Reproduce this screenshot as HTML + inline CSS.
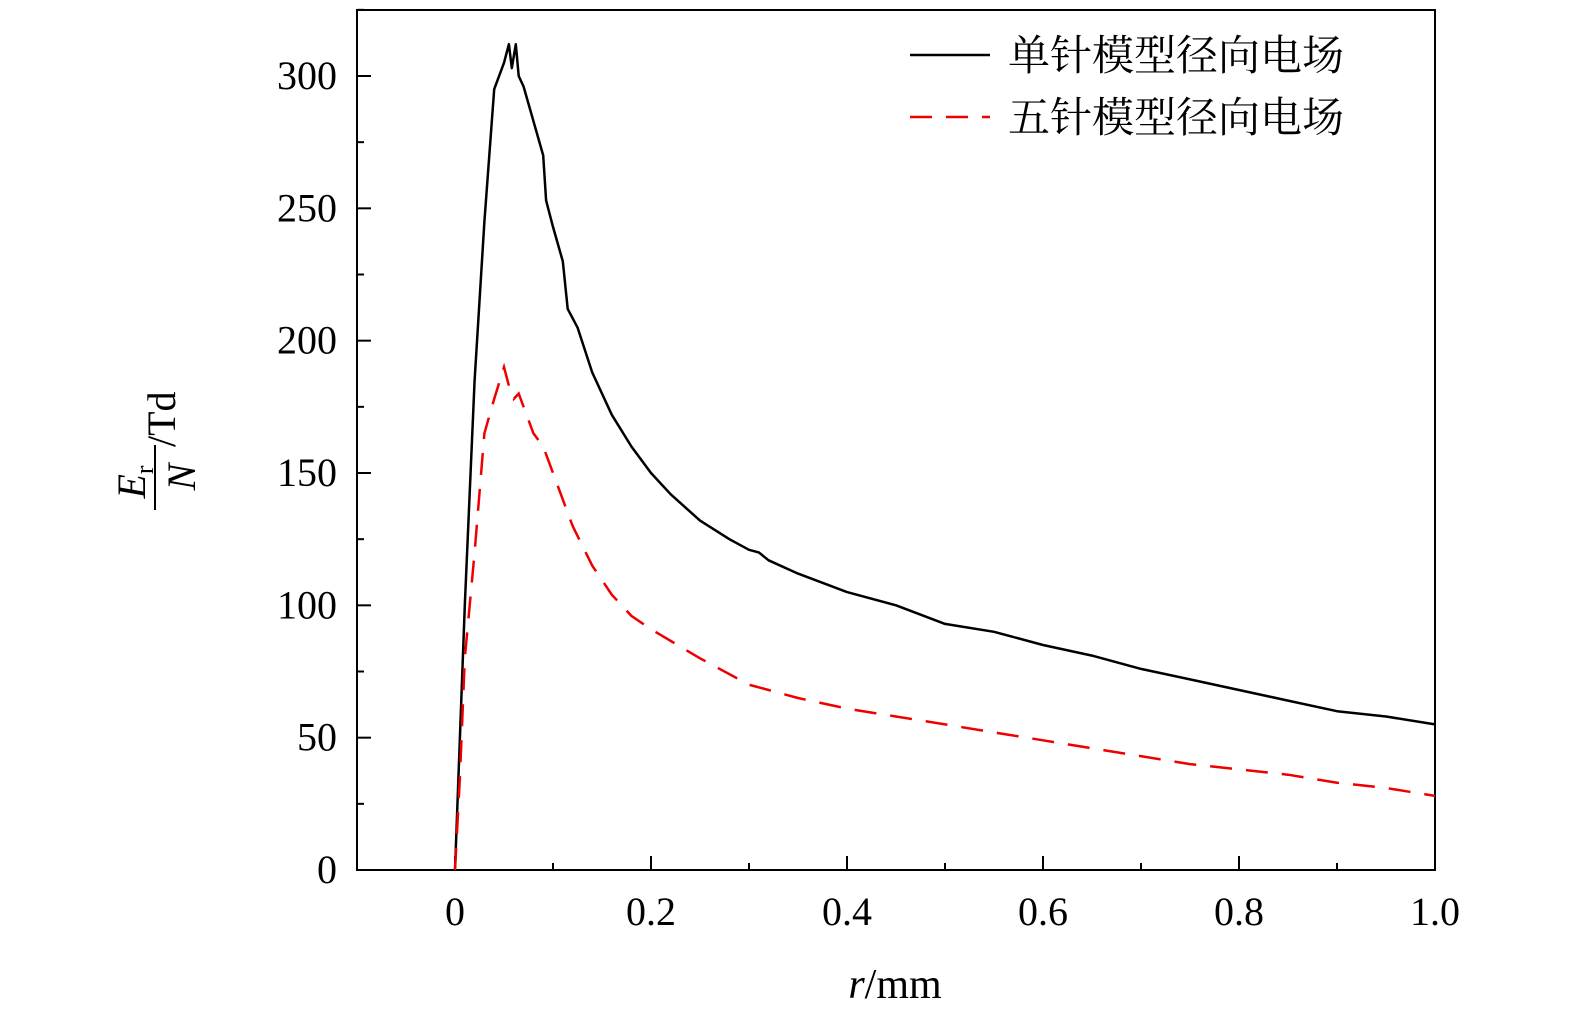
<!DOCTYPE html>
<html><head><meta charset="utf-8"><style>
body{margin:0;background:#fff;}
svg{display:block;font-family:"Liberation Serif","Noto Serif CJK SC",serif;}
</style></head><body>
<svg id="chart" width="1575" height="1024" viewBox="0 0 1575 1024">
<rect x="357" y="10" width="1078" height="860" fill="none" stroke="#000" stroke-width="2"/>
<g id="ticks"></g>
<g id="series"></g>
<text x="895" y="998" font-size="42" text-anchor="middle"><tspan font-style="italic">r</tspan>/mm</text>
<g transform="translate(190,435) rotate(-90)">
<text x="-47" y="-45" font-size="40" font-style="italic" text-anchor="middle">E<tspan font-size="26" font-style="normal" dy="8">r</tspan></text>
<line x1="-75" y1="-35" x2="-10" y2="-35" stroke="#000" stroke-width="2"/>
<text x="-42" y="5" font-size="40" font-style="italic" text-anchor="middle">N</text>
<text x="-12" y="-15" font-size="40" text-anchor="start">/Td</text>
</g>
<g>
<line x1="910" y1="55" x2="990" y2="55" stroke="#000" stroke-width="2.5"/>
<text x="1008" y="70" font-size="42">单针模型径向电场</text>
<line x1="910" y1="117" x2="990" y2="117" stroke="#e00" stroke-width="2.5" stroke-dasharray="22,14"/>
<text x="1008" y="132" font-size="42">五针模型径向电场</text>
</g>
</svg>
<script>
const xTicks=[0,0.2,0.4,0.6,0.8,1.0];
const xTickLabels=["0","0.2","0.4","0.6","0.8","1.0"];
const yTicks=[0,50,100,150,200,250,300];
const yTickLabels=["0","50","100","150","200","250","300"];
const rSingle=[0,0.005,0.01,0.02,0.03,0.035,0.04,0.05,0.055,0.058,0.062,0.065,0.07,0.08,0.09,0.093,0.1,0.11,0.115,0.125,0.14,0.16,0.18,0.2,0.22,0.25,0.28,0.3,0.31,0.32,0.35,0.4,0.45,0.5,0.55,0.6,0.65,0.7,0.75,0.8,0.85,0.9,0.95,1.0];
const eSingle=[0,50,100,185,245,270,295,305,312,303,312,300,296,283,270,253,243,230,212,205,188,172,160,150,142,132,125,121,120,117,112,105,100,93,90,85,81,76,72,68,64,60,58,55];
const rFive=[0,0.005,0.01,0.02,0.03,0.04,0.05,0.055,0.06,0.065,0.07,0.08,0.09,0.1,0.12,0.14,0.16,0.18,0.2,0.25,0.3,0.35,0.4,0.45,0.5,0.55,0.6,0.65,0.7,0.75,0.8,0.85,0.9,0.95,1.0];
const eFive=[0,35,80,120,165,178,190,183,178,180,175,165,160,150,130,115,104,96,91,80,70,65,61,58,55,52,49,46,43,40,38,36,33,31,28];
const NS="http://www.w3.org/2000/svg";
const X=v=>455+v*980;
const Y=v=>870-v*(794/300);
const tg=document.getElementById('ticks');
function mk(tag,attrs,parent){const e=document.createElementNS(NS,tag);for(const k in attrs)e.setAttribute(k,attrs[k]);parent.appendChild(e);return e;}
for(let v=-0.1;v<=1.001;v+=0.1){const l=mk('line',{x1:X(v),x2:X(v),y1:870,y2:Math.abs(Math.round(v*10)%2)===0?856:863,stroke:'#000','stroke-width':2},tg);

}
xTicks.forEach((v,i)=>{const t=mk('text',{x:X(v),y:925,'font-size':40,'text-anchor':'middle'},tg);t.textContent=xTickLabels[i];

});
for(let v=0;v<=325;v+=25){const l=mk('line',{x1:357,x2:v%50===0?371:364,y1:Y(v),y2:Y(v),stroke:'#000','stroke-width':2},tg);

}
yTicks.forEach((v,i)=>{const t=mk('text',{x:337,y:Y(v)+13,'font-size':40,'text-anchor':'end'},tg);t.textContent=yTickLabels[i];

});
const sg=document.getElementById('series');
function path(rs,es){return rs.map((r,i)=>(i?'L':'M')+X(r).toFixed(1)+','+Y(es[i]).toFixed(1)).join(' ');}
const p1=mk('path',{d:path(rSingle,eSingle),fill:'none',stroke:'#000','stroke-width':2.5,'stroke-linejoin':'round'},sg);


const p2=mk('path',{d:path(rFive,eFive),fill:'none',stroke:'#e00','stroke-width':2.5,'stroke-dasharray':'22,14'},sg);


</script>
</body></html>
